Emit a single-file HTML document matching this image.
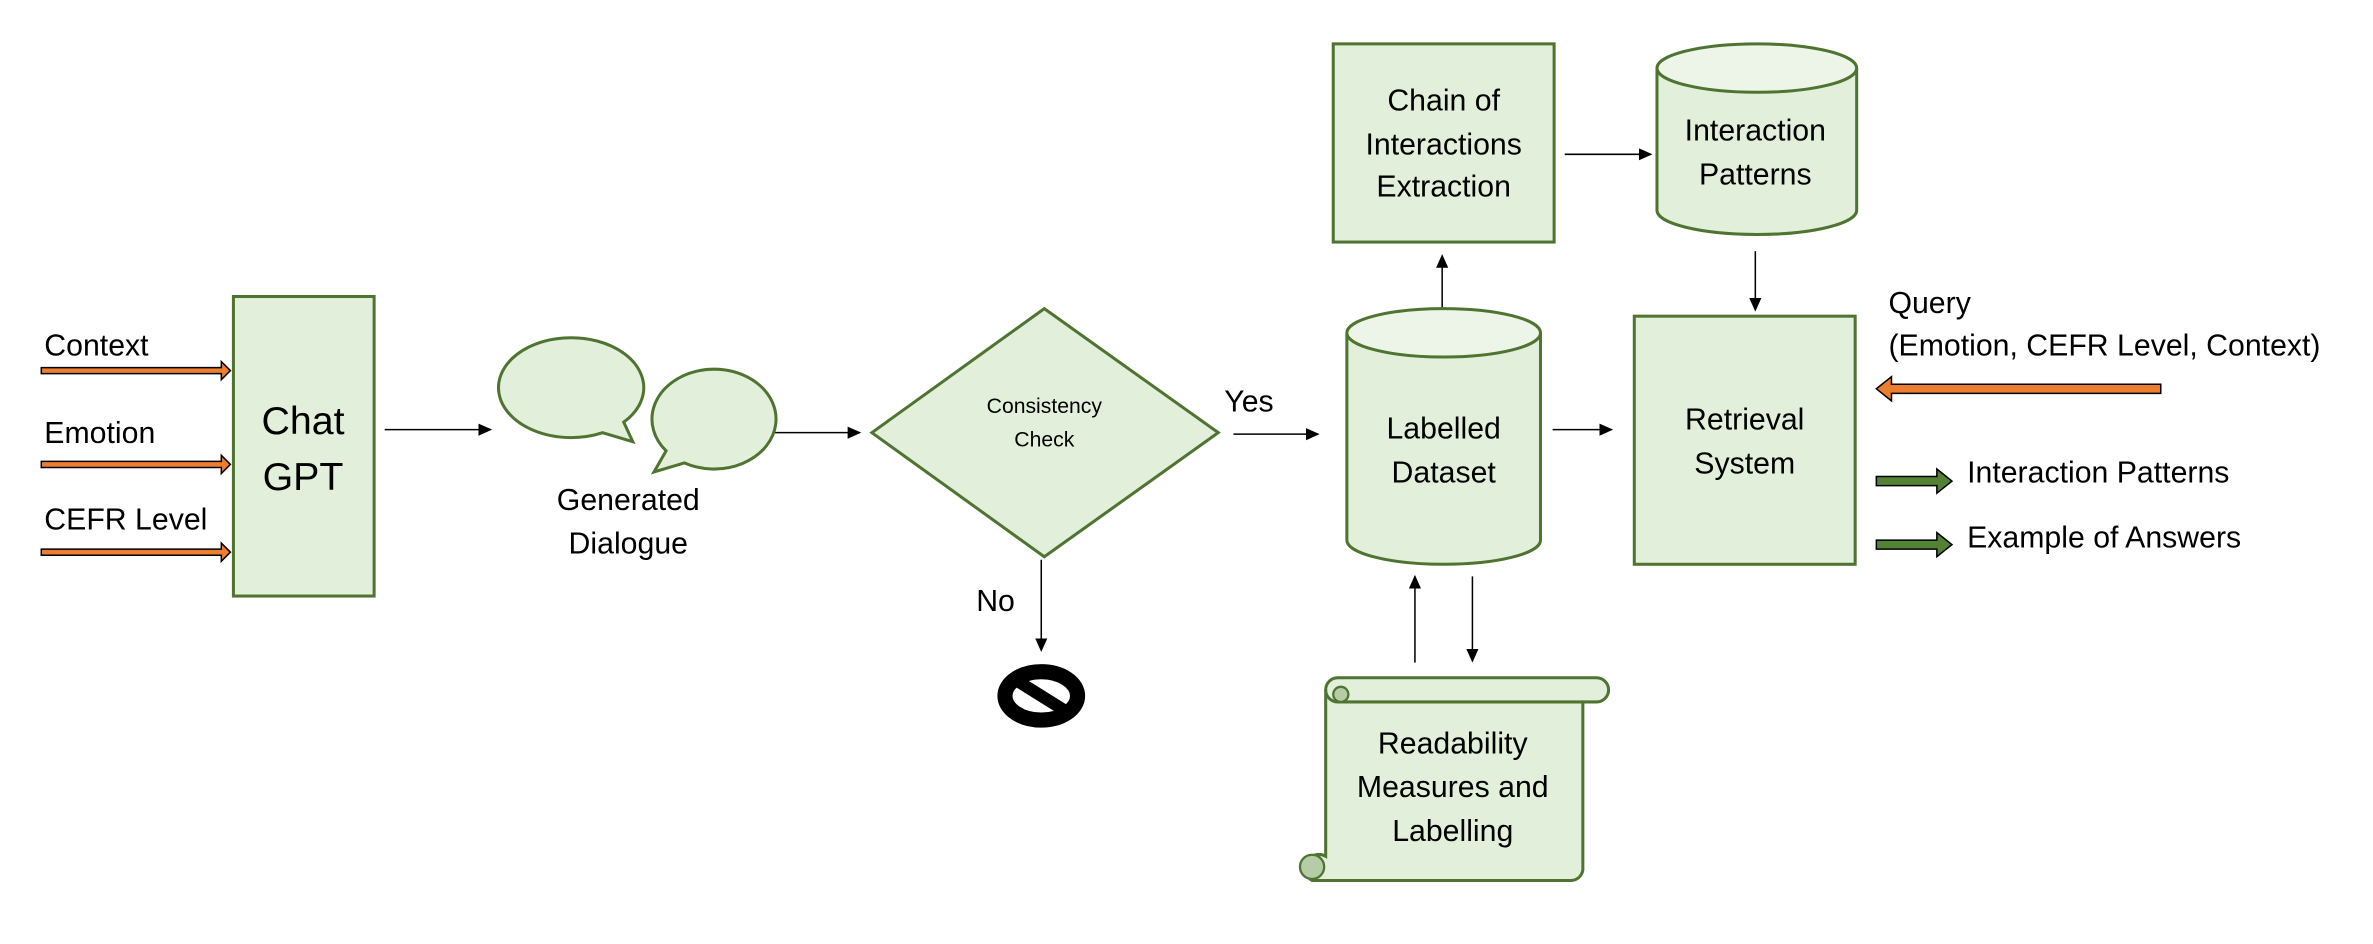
<!DOCTYPE html>
<html><head><meta charset="utf-8"><style>html,body{margin:0;padding:0;background:#fff}svg{display:block}</style></head>
<body>
<svg width="2373" height="944" viewBox="0 0 1568 624" xmlns="http://www.w3.org/2000/svg" font-family="'Liberation Sans', sans-serif" fill="#000">
<defs>
<marker id="ah" markerWidth="10" markerHeight="10" refX="8" refY="4" orient="auto" markerUnits="userSpaceOnUse"><path d="M0,0 L9,4 L0,8 Z" fill="#000"/></marker>
</defs>
<rect width="1568" height="624" fill="#fff"/>
<g stroke="#000" stroke-width="1" fill="none" marker-end="url(#ah)">
<line x1="254" y1="284" x2="324" y2="284"/>
<line x1="512" y1="286" x2="568" y2="286"/>
<line x1="815" y1="287" x2="871" y2="287"/>
<line x1="688" y1="370" x2="688" y2="430"/>
<line x1="953" y1="225" x2="953" y2="169"/>
<line x1="1034" y1="102" x2="1091" y2="102"/>
<line x1="1160" y1="166" x2="1160" y2="205"/>
<line x1="1026" y1="284" x2="1065" y2="284"/>
<line x1="935" y1="438" x2="935" y2="381"/>
<line x1="973" y1="381" x2="973" y2="437"/>
</g>
<g fill="#ed7d31" stroke="#000" stroke-width="1">
<path d="M27,243 L146,243 L146,239 L152,245 L146,251 L146,247 L27,247 Z"/>
<path d="M27,305 L146,305 L146,301 L152,307 L146,313 L146,309 L27,309 Z"/>
<path d="M27,363 L146,363 L146,359 L152,365 L146,371 L146,367 L27,367 Z"/>
<path d="M1428,254 L1250,254 L1250,249 L1240,257 L1250,265 L1250,260 L1428,260 Z"/>
</g>
<g fill="#548235" stroke="#000" stroke-width="1">
<path d="M1240,315 L1280,315 L1280,310 L1290,318 L1280,326 L1280,321 L1240,321 Z"/>
<path d="M1240,357 L1280,357 L1280,352 L1290,360 L1280,368 L1280,363 L1240,363 Z"/>
</g>
<g font-size="20">
<text x="29" y="235">Context</text>
<text x="29" y="293">Emotion</text>
<text x="29" y="350">CEFR Level</text>
</g>
<g fill="#e2efda" stroke="#4f7431" stroke-width="2">
<rect x="154" y="196" width="93" height="198"/>
<path d="M412,279 L418,292 L398,286 A48,33 0 1 1 412,279 Z"/>
<path d="M440,298 L432,312 L452,306 A41,33 0 1 0 440,298 Z"/>
<polygon points="576,286 690,204 805,286 690,368"/>
<path d="M890,220 L890,357 A64,16 0 0 0 1018,357 L1018,220"/>
<ellipse cx="954" cy="220" rx="64" ry="16" fill="#edf5e8"/>
<rect x="881" y="29" width="146" height="131"/>
<path d="M1095,45 L1095,139 A66,16 0 0 0 1227,139 L1227,45"/>
<ellipse cx="1161" cy="45" rx="66" ry="16" fill="#edf5e8"/>
<rect x="1080" y="209" width="146" height="164"/>
<path d="M884,448 L1055,448 A8,8 0 0 1 1055,464 L1046,464 L1046,575 A8,8 0 0 1 1038,582 L867,582 A9,9 0 0 1 876,566 L876,456 A8,8 0 0 1 884,448 Z"/>
<path d="M876,456 A8,8 0 0 0 884,464 L1046,464" fill="none"/>
<circle cx="886" cy="459" r="5" fill="#b5cca6" stroke-width="1.5"/>
<circle cx="867" cy="573" r="8" fill="#b5cca6" stroke-width="1.5"/>
</g>
<text x="200" y="287" font-size="26" text-anchor="middle">Chat</text>
<text x="200" y="324" font-size="26" text-anchor="middle">GPT</text>
<g font-size="20" text-anchor="middle">
<text x="415" y="337">Generated</text>
<text x="415" y="366">Dialogue</text>
<text x="954" y="290">Labelled</text>
<text x="954" y="319">Dataset</text>
<text x="954" y="73">Chain of</text>
<text x="954" y="102">Interactions</text>
<text x="954" y="130">Extraction</text>
<text x="1160" y="93">Interaction</text>
<text x="1160" y="122">Patterns</text>
<text x="1153" y="284">Retrieval</text>
<text x="1153" y="313">System</text>
<text x="960" y="498">Readability</text>
<text x="960" y="527">Measures and</text>
<text x="960" y="556">Labelling</text>
</g>
<text x="690" y="273" font-size="14" text-anchor="middle">Consistency</text>
<text x="690" y="295" font-size="14" text-anchor="middle">Check</text>
<text x="809" y="272" font-size="20">Yes</text>
<text x="645" y="404" font-size="20">No</text>
<g font-size="20">
<text x="1248" y="207">Query</text>
<text x="1248" y="235">(Emotion, CEFR Level, Context)</text>
<text x="1300" y="319">Interaction Patterns</text>
<text x="1300" y="362">Example of Answers</text>
</g>
<ellipse cx="688" cy="460" rx="24" ry="16" fill="none" stroke="#000" stroke-width="10"/>
<line x1="672" y1="450" x2="704" y2="470" stroke="#000" stroke-width="8"/>
</svg>
</body></html>
